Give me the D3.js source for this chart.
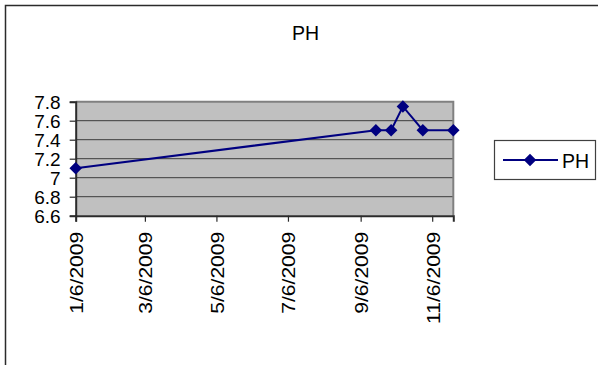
<!DOCTYPE html>
<html>
<head>
<meta charset="utf-8">
<script src="https://cdn.jsdelivr.net/npm/d3@7"></script>
<style>
  html, body { margin: 0; padding: 0; background: #fff; }
  svg { display: block; font-family: "Liberation Sans", Arial, sans-serif; }
</style>
</head>
<body>
<svg id="chart" width="598" height="365"></svg>
<script>
// pH readings by sampling date
const sampleDates = ["2009-01-06", "2009-09-19", "2009-10-02", "2009-10-12", "2009-10-29", "2009-11-24"];
const phValues = [7.1, 7.5, 7.5, 7.75, 7.5, 7.5];
const xTickDates = ["2009-01-06", "2009-03-06", "2009-05-06", "2009-07-06", "2009-09-06", "2009-11-06"];
const yTicks = [6.6, 6.8, 7.0, 7.2, 7.4, 7.6, 7.8];
const seriesName = "PH";

const parse = d3.timeParse("%Y-%m-%d");
const fmt = d3.timeFormat("%-m/%-d/%Y");
const points = sampleDates.map((d, i) => ({ date: parse(d), value: phValues[i] }));

const svg = d3.select("#chart");
const plot = { left: 75.7, right: 453.3, top: 101.7, bottom: 215.7 };
const font = "Liberation Sans, Arial, sans-serif";

// outer chart frame (only top and left edges fall inside the view)
svg.append("rect")
  .attr("x", 5.5).attr("y", 5.5).attr("width", 800).attr("height", 600)
  .attr("fill", "none").attr("stroke", "#2b2b2b").attr("stroke-width", 1.5);

svg.append("text")
  .attr("x", 305.5).attr("y", 39.5)
  .attr("text-anchor", "middle")
  .attr("font-size", 19.5).attr("fill", "#000")
  .text(seriesName);

const x = d3.scaleTime()
  .domain([points[0].date, points[points.length - 1].date])
  .range([plot.left, plot.right]);
const y = d3.scaleLinear().domain([6.6, 7.8]).range([plot.bottom, plot.top]);

// plot area
svg.append("rect")
  .attr("x", plot.left).attr("y", plot.top)
  .attr("width", plot.right - plot.left).attr("height", plot.bottom - plot.top)
  .attr("fill", "#c0c0c0");

// horizontal gridlines
svg.append("g").selectAll("line")
  .data(yTicks.filter(v => v > 6.6 && v < 7.8))
  .join("line")
  .attr("x1", plot.left).attr("x2", plot.right)
  .attr("y1", d => y(d)).attr("y2", d => y(d))
  .attr("stroke", "#3c3c3c").attr("stroke-width", 1);

// top and right plot border
svg.append("path")
  .attr("d", `M${plot.left},${plot.top}H${plot.right}V${plot.bottom}`)
  .attr("fill", "none").attr("stroke", "#808080").attr("stroke-width", 2);

// y axis
const yAxis = svg.append("g")
  .attr("transform", `translate(${plot.left},0)`)
  .call(d3.axisLeft(y).tickValues(yTicks).tickSize(6).tickPadding(9)
    .tickFormat(d => d3.format("")(+d.toFixed(1))));
yAxis.attr("font-size", 19).attr("font-family", font);
yAxis.select(".domain").attr("stroke", "#2b2b2b").attr("stroke-width", 2);
yAxis.selectAll(".tick line").attr("stroke", "#2b2b2b").attr("stroke-width", 1.2);
yAxis.selectAll("text").attr("fill", "#000").attr("dy", "0.34em");

// x axis
const xAxis = svg.append("g")
  .attr("transform", `translate(0,${plot.bottom})`)
  .call(d3.axisBottom(x).tickValues(xTickDates.map(parse)).tickSize(6).tickFormat(fmt));
xAxis.attr("font-size", 19).attr("font-family", font);
xAxis.select(".domain").attr("stroke", "#2b2b2b").attr("stroke-width", 2);
xAxis.selectAll(".tick line").attr("stroke", "#2b2b2b").attr("stroke-width", 1.2);
xAxis.selectAll("text")
  .attr("fill", "#000")
  .attr("text-anchor", "end")
  .attr("x", 0).attr("y", 0).attr("dy", "0.36em")
  .attr("transform", "translate(0,16) rotate(-90) scale(1.11,1)");

// series line and markers
const diamond = d3.symbol().type(d3.symbolDiamond2).size(100);
svg.append("path")
  .datum(points)
  .attr("d", d3.line().x(d => x(d.date)).y(d => y(d.value)))
  .attr("fill", "none").attr("stroke", "#000080").attr("stroke-width", 2);
svg.append("g").selectAll("path")
  .data(points)
  .join("path")
  .attr("transform", d => `translate(${x(d.date)},${y(d.value)})`)
  .attr("d", diamond)
  .attr("fill", "#000080");

// legend
const lg = svg.append("g");
lg.append("rect")
  .attr("x", 494.5).attr("y", 140.5).attr("width", 101).attr("height", 39)
  .attr("fill", "#fff").attr("stroke", "#404040").attr("stroke-width", 1.2);
lg.append("line")
  .attr("x1", 503).attr("x2", 558).attr("y1", 160).attr("y2", 160)
  .attr("stroke", "#000080").attr("stroke-width", 2);
lg.append("path")
  .attr("transform", "translate(530,160)")
  .attr("d", diamond).attr("fill", "#000080");
lg.append("text")
  .attr("x", 562).attr("y", 167.5)
  .attr("font-size", 19.5).attr("fill", "#000")
  .attr("font-family", font)
  .text(seriesName);
</script>
</body>
</html>
